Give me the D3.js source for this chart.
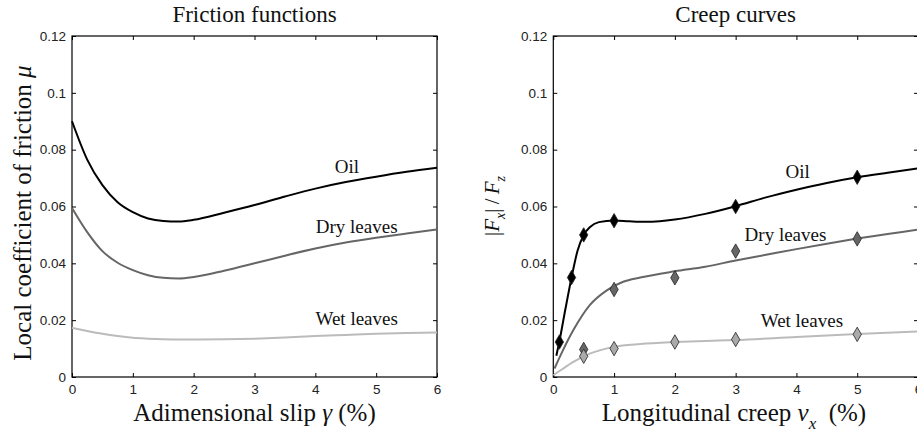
<!DOCTYPE html>
<html>
<head>
<meta charset="utf-8">
<script src="https://cdn.jsdelivr.net/npm/d3@7"></script>
<style>
  body { margin: 0; background: #fff; }
  svg { display: block; }
  .lab { font-family: "Liberation Serif", "Times New Roman", serif; fill: #111; }
</style>
</head>
<body>
<div id="chart"></div>
<script>
// friction functions (left) : slip gamma (%) -> mu
var slipX   = [0, 0.25, 0.5, 0.75, 1, 1.25, 1.5, 1.75, 2, 2.5, 3, 3.5, 4, 4.5, 5, 5.5, 6];
var oilMu   = [0.090, 0.0765, 0.0675, 0.0615, 0.058, 0.0558, 0.0549, 0.0547, 0.0553, 0.0578, 0.0605, 0.0635, 0.0663, 0.0686, 0.0705, 0.0722, 0.0736];
var dryMu   = [0.0595, 0.051, 0.0443, 0.0402, 0.0376, 0.0358, 0.0349, 0.0347, 0.0352, 0.0374, 0.0400, 0.0427, 0.0452, 0.0473, 0.0490, 0.0505, 0.0519];
var wetMu   = [0.0173, 0.0162, 0.0152, 0.0144, 0.0138, 0.0135, 0.0133, 0.0132, 0.0132, 0.0133, 0.0135, 0.0139, 0.0144, 0.0148, 0.0152, 0.0155, 0.0157];

// creep curves (right) : creep nu_x (%) -> |Fx|/Fz
var oilCreepX = [0.05, 0.1, 0.2, 0.3, 0.4, 0.5, 0.6, 0.75, 1, 1.25, 1.5, 1.75, 2, 2.5, 3, 3.5, 4, 4.5, 5, 5.5, 6];
var oilCreep  = [0.0075, 0.0125, 0.024, 0.035, 0.0445, 0.050, 0.0527, 0.0545, 0.0551, 0.0548, 0.0546, 0.0548, 0.0554, 0.0574, 0.0601, 0.0632, 0.0659, 0.0683, 0.0703, 0.0719, 0.0734];
var dryCreepX = [0.02, 0.15, 0.33, 0.6, 0.88, 1.15, 1.43, 2, 2.5, 3, 3.5, 4, 4.5, 5, 5.5, 6];
var dryCreep  = [0.003, 0.009, 0.0165, 0.0253, 0.0305, 0.0335, 0.035, 0.0372, 0.0388, 0.0410, 0.0430, 0.0450, 0.0469, 0.0487, 0.0503, 0.0519];
var wetCreepX = [0, 0.15, 0.33, 0.6, 1, 1.43, 2, 2.5, 3, 4, 5, 6];
var wetCreep  = [0.0006, 0.0028, 0.0053, 0.0082, 0.0106, 0.0116, 0.0123, 0.0127, 0.0130, 0.0141, 0.0151, 0.0160];

// measured points (diamonds)
var oilPtsX = [0.1, 0.3, 0.5, 1, 3, 5];
var oilPts  = [0.0123, 0.035, 0.050, 0.055, 0.060, 0.0703];
var dryPtsX = [0.5, 1, 2, 3, 5];
var dryPts  = [0.0097, 0.0308, 0.0349, 0.0443, 0.0486];
var wetPtsX = [0.5, 1, 2, 3, 5];
var wetPts  = [0.0073, 0.0100, 0.0123, 0.0132, 0.0150];

var xTicks = [0, 1, 2, 3, 4, 5, 6];
var yTicks = [0, 0.02, 0.04, 0.06, 0.08, 0.1, 0.12];

var colors = { oil: "#000000", dry: "#666666", wet: "#bbbbbb" };
var markFill = { oil: "#000000", dry: "#666666", wet: "#aaaaaa" };

var W = 917, H = 436;
var svg = d3.select("#chart").append("svg").attr("width", W).attr("height", H);

function zip(xs, ys) { return xs.map(function(x, i) { return [x, ys[i]]; }); }

function panel(left, right, opts) {
  var top = 36, bottom = 377;
  var x = d3.scaleLinear().domain([0, 6]).range([left, right]);
  var y = d3.scaleLinear().domain([0, 0.12]).range([bottom, top]);
  var g = svg.append("g");

  // box
  g.append("rect").attr("x", left).attr("y", top)
    .attr("width", right - left).attr("height", bottom - top)
    .attr("fill", "none").attr("stroke", "#000").attr("stroke-width", 1.2);

  // axes with inner ticks
  g.append("g").attr("transform", "translate(0," + bottom + ")")
    .call(d3.axisBottom(x).tickValues(xTicks).tickSize(-4).tickPadding(7).tickFormat(d3.format("d")));
  g.append("g").attr("transform", "translate(" + left + ",0)")
    .call(d3.axisLeft(y).tickValues(yTicks).tickSize(-4).tickPadding(6).tickFormat(function(d) { return d === 0 ? "0" : String(+d.toFixed(2)); }));
  g.append("g").attr("transform", "translate(0," + top + ")")
    .call(d3.axisTop(x).tickValues(xTicks).tickSize(-4).tickFormat(""));
  g.append("g").attr("transform", "translate(" + right + ",0)")
    .call(d3.axisRight(y).tickValues(yTicks).tickSize(-4).tickFormat(""));
  g.selectAll(".domain").remove();
  g.selectAll(".tick line").attr("stroke", "#000");
  g.selectAll(".tick text")
    .attr("font-family", "'Liberation Sans', Arial, sans-serif")
    .attr("font-size", 13.5).attr("fill", "#222");

  var line = d3.line().x(function(d) { return x(d[0]); }).y(function(d) { return y(d[1]); })
    .curve(d3.curveMonotoneX);

  opts.series.forEach(function(s) {
    g.append("path").datum(zip(s.xs, s.ys))
      .attr("fill", "none").attr("stroke", colors[s.key]).attr("stroke-width", 2)
      .attr("d", line);
  });

  if (opts.points) {
    var diamond = d3.symbol().type(d3.symbolDiamond).size(60);
    opts.points.forEach(function(p) {
      g.selectAll(null).data(zip(p.xs, p.ys)).enter().append("path")
        .attr("d", diamond)
        .attr("transform", function(d) { return "translate(" + x(d[0]) + "," + y(d[1]) + ")"; })
        .attr("fill", markFill[p.key]).attr("stroke", "#222").attr("stroke-width", 0.8);
    });
  }

  opts.labels.forEach(function(l) {
    g.append("text").attr("class", "lab").attr("x", x(l.x)).attr("y", y(l.y))
      .attr("text-anchor", "middle").attr("font-size", 19).text(l.text);
  });

  // title
  g.append("text").attr("class", "lab").attr("x", (left + right) / 2).attr("y", 22)
    .attr("text-anchor", "middle").attr("font-size", 23).text(opts.title);
  return { x: x, y: y, g: g };
}

panel(72, 437, {
  title: "Friction functions",
  series: [
    { key: "oil", xs: slipX, ys: oilMu },
    { key: "dry", xs: slipX, ys: dryMu },
    { key: "wet", xs: slipX, ys: wetMu }
  ],
  labels: [
    { text: "Oil", x: 4.52, y: 0.0717 },
    { text: "Dry leaves", x: 4.68, y: 0.0505 },
    { text: "Wet leaves", x: 4.68, y: 0.0182 }
  ]
});

panel(553.3, 918, {
  title: "Creep curves",
  series: [
    { key: "oil", xs: oilCreepX, ys: oilCreep },
    { key: "dry", xs: dryCreepX, ys: dryCreep },
    { key: "wet", xs: wetCreepX, ys: wetCreep }
  ],
  points: [
    { key: "oil", xs: oilPtsX, ys: oilPts },
    { key: "dry", xs: dryPtsX, ys: dryPts },
    { key: "wet", xs: wetPtsX, ys: wetPts }
  ],
  labels: [
    { text: "Oil", x: 4.02, y: 0.0700 },
    { text: "Dry leaves", x: 3.82, y: 0.0479 },
    { text: "Wet leaves", x: 4.09, y: 0.0176 }
  ]
});

// x labels
var xl1 = svg.append("text").attr("class", "lab").attr("x", 254.5).attr("y", 421)
  .attr("text-anchor", "middle").attr("font-size", 25);
xl1.append("tspan").text("Adimensional slip ");
xl1.append("tspan").attr("font-style", "italic").text("γ");
xl1.append("tspan").text(" (%)");

var xl2 = svg.append("text").attr("class", "lab").attr("x", 734).attr("y", 421)
  .attr("text-anchor", "middle").attr("font-size", 25);
xl2.append("tspan").text("Longitudinal creep ");
xl2.append("tspan").attr("font-style", "italic").text("ν");
xl2.append("tspan").attr("font-style", "italic").attr("font-size", 17).attr("dy", 8).text("x");
xl2.append("tspan").attr("dy", -8).text("\u00a0 (%)");

// y labels
var yl1 = svg.append("text").attr("class", "lab")
  .attr("transform", "translate(31,213) rotate(-90)")
  .attr("text-anchor", "middle").attr("font-size", 25);
yl1.append("tspan").text("Local coefficient of friction ");
yl1.append("tspan").attr("font-style", "italic").text("μ");

var yl2 = svg.append("text").attr("class", "lab")
  .attr("transform", "translate(499,206) rotate(-90)")
  .attr("text-anchor", "middle").attr("font-size", 21);
yl2.append("tspan").text("|");
yl2.append("tspan").attr("font-style", "italic").text("F");
yl2.append("tspan").attr("font-style", "italic").attr("font-size", 14).attr("dy", 6).text("x");
yl2.append("tspan").attr("dy", -6).text("|\u2009/\u2009");
yl2.append("tspan").attr("font-style", "italic").text("F");
yl2.append("tspan").attr("font-style", "italic").attr("font-size", 14).attr("dy", 6).text("z");
</script>
</body>
</html>
